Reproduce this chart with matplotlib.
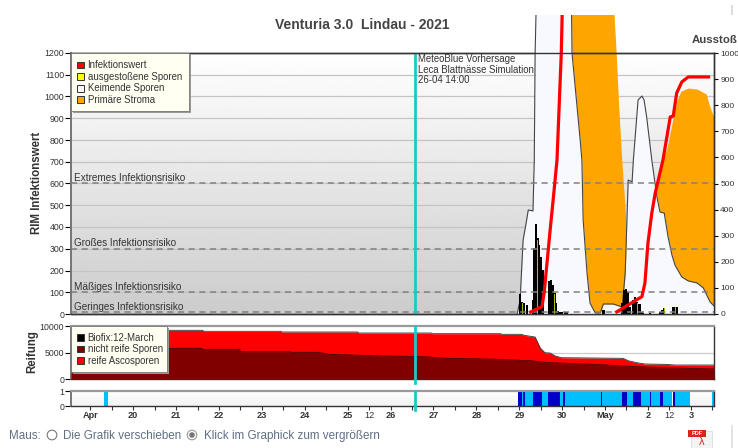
import numpy as np
import matplotlib
matplotlib.use("Agg")
import matplotlib.pyplot as plt
from matplotlib.patches import Rectangle, Circle

plt.rcParams['font.family'] = ['Liberation Sans', 'DejaVu Sans']

# x values are days, 20 = 20 April, 31 = 1 May
keim_x = [28.95, 29.02, 29.09, 29.16, 29.21, 29.32, 29.35, 29.37, 29.39, 29.42, 30.15, 30.22, 30.23, 30.42,
          30.46, 30.49, 30.58, 30.65, 30.77, 30.89, 30.96, 31.19, 31.40, 31.47, 31.54, 31.63, 31.66, 31.77,
          31.86, 31.91, 31.97, 32.09, 32.21, 32.28, 32.38, 32.47, 32.56, 32.63, 32.79, 32.94, 33.14, 33.29,
          33.45, 33.54]
keim_y = [0, 64, 340, 418, 478, 474, 708, 1200, 1375, 1900, 1900, 1375, 1200, 800,
          708, 432, 188, 50, 5, 5, 46, 46, 32, 188, 616, 607, 708, 984,
          1002, 984, 906, 708, 538, 469, 464, 354, 271, 225, 170, 152, 143, 120,
          55, 37]

stroma_x = [29.6, 29.9, 30.9, 31.21, 31.26, 31.31, 31.39, 31.47, 31.51, 31.52, 31.54, 31.6, 32.17, 32.35,
            32.45, 32.59, 32.68, 32.77, 32.94, 33.15, 33.36, 33.43, 33.54]
stroma_y = [0, 1900, 1900, 1375, 1200, 984, 708, 478, 326, 64, 10, 10, 579, 708,
            768, 906, 984, 1025, 1039, 1034, 1011, 961, 901]

inf1_x = [29.23, 29.53, 29.58, 29.72, 29.79, 29.88, 29.98, 30.00, 30.03]
inf1_y = [6, 34, 97, 386, 524, 708, 1200, 1375, 1900]
inf2_x = [31.24, 31.86, 31.93, 32.0, 32.09, 32.17, 32.35, 32.52, 32.59, 32.67, 32.79, 32.94, 33.45]
inf2_y = [6, 80, 143, 326, 464, 556, 708, 906, 910, 1016, 1067, 1090, 1090]

bar_x = [29.02, 29.07, 29.11, 29.18, 29.33, 29.35, 29.39, 29.43, 29.46, 29.51, 29.54, 29.56, 29.70, 29.74,
         29.78, 29.82, 29.86, 29.89, 29.95, 30.0, 30.06, 30.11, 30.96, 31.41, 31.44, 31.49, 31.54, 31.57,
         31.66, 31.70, 31.75, 31.80, 31.85, 31.89, 32.05, 32.28, 32.34, 32.38, 32.59, 32.64, 32.67]
bar_y = [92, 55, 50, 41, 64, 303, 414, 349, 317, 262, 202, 110, 152, 156,
         133, 97, 50, 14, 9, 8, 8, 8, 18, 50, 110, 115, 101, 32,
         64, 78, 55, 46, 9, 6, 6, 9, 18, 28, 34, 34, 32]
# the few hours where the yellow of the bar shows through the black
streak_x = [29.07, 29.18, 29.43, 29.51, 29.74, 29.82, 31.49, 31.75, 32.38, 32.64]
streak_y = [50, 36, 340, 250, 150, 90, 108, 50, 26, 30]

risk_levels = [600, 300, 100, 9]
risk_labels = ['Extremes Infektionsrisiko', 'Großes Infektionsrisiko', 'Mäßiges Infektionsrisiko', 'Geringes Infektionsrisiko']

total_x = [18.55, 21.62, 21.64, 23.44, 23.46, 25.23, 25.25, 26.95, 26.97, 28.57, 28.59, 29.05, 29.12, 29.37,
           29.49, 29.6, 29.72, 29.84, 29.98, 30.72, 31.42, 31.54, 31.74, 31.93, 32.4, 32.63, 33.54]
total_y = [9190, 9190, 9000, 9000, 8870, 8870, 8680, 8680, 8550, 8550, 8430, 8430, 8240, 7920,
           5850, 4960, 4900, 4340, 4020, 3960, 3900, 3450, 3080, 2830, 2770, 2640, 2640]
unripe_x = [18.55, 21.59, 21.61, 22.48, 22.50, 23.65, 23.67, 24.31, 24.57, 25.29, 25.92, 26.76, 27.32, 28.48,
            29.25, 29.72, 30.72, 31.31, 31.75, 32.35, 33.54]
unripe_y = [5790, 5790, 5600, 5600, 5150, 5150, 5040, 5040, 4660, 4470, 4340, 4210, 3900, 3720,
            3450, 3080, 2770, 2510, 2320, 2130, 1890]

wet_light = [(19.32, 19.42), (29.06, 29.08), (29.14, 29.33), (29.53, 29.68), (29.94, 30.03), (30.06, 30.90),
             (30.93, 31.40), (31.52, 31.65), (31.84, 32.04), (32.06, 32.28), (32.35, 32.57), (32.62, 32.97),
             (33.50, 33.54)]
wet_dark = [(28.96, 29.06), (29.08, 29.14), (29.33, 29.53), (29.68, 29.94), (30.03, 30.06), (30.90, 30.93),
            (31.40, 31.52), (31.65, 31.84), (32.04, 32.06), (32.28, 32.35), (32.59, 32.62)]

tick_days = [19, 20, 21, 22, 23, 24, 25, 25.5, 26, 27, 28, 29, 30, 31, 32, 32.5, 33]
tick_names = ['Apr', '20', '21', '22', '23', '24', '25', '12', '26', '27', '28', '29', '30', 'May', '2', '12', '3']
forecast_day = 26.57

W, H = 738, 448
x_range = (18.55, 33.54)
fig = plt.figure(figsize=(W / 100, H / 100), dpi=100)


def axes_at(top, bottom):
    return fig.add_axes([71 / W, 1 - bottom / H, (714 - 71) / W, (bottom - top) / H])


def fx(x):
    return x / W


def fy(y):
    return 1 - y / H


def put_text(x, y, s, **kw):
    kw.setdefault('fontsize', 6.9)
    kw.setdefault('color', '#333333')
    kw.setdefault('va', 'center')
    fig.text(fx(x), fy(y), s, **kw)


def put_box(x0, y0, x1, y1, **kw):
    r = Rectangle((fx(x0), fy(y1)), fx(x1 - x0), (y1 - y0) / H, transform=fig.transFigure, **kw)
    fig.add_artist(r)
    return r


def style_spines(ax, top_grey):
    for side in ['right', 'bottom']:
        ax.spines[side].set_color('#333333')
        ax.spines[side].set_linewidth(1.0)
    ax.spines['left'].set_color('#777777')
    ax.spines['left'].set_linewidth(1.4)
    ax.spines['top'].set_color('#999999' if top_grey else '#333333')
    ax.spines['top'].set_linewidth(1.6 if top_grey else 1.0)


def style_y_ticks(ax):
    ax.tick_params(axis='y', labelsize=6.3, labelcolor='#333333', length=4, width=0.8, pad=1)


# main panel
ax = axes_at(53, 314)
ax.imshow(np.linspace(1.0, 0.8, 100).reshape(-1, 1), extent=[x_range[0], x_range[1], 0, 1200], aspect='auto',
          cmap='gray', vmin=0, vmax=1, zorder=0)
ax.set_xlim(x_range)
ax.set_ylim(0, 1200)
for v in range(100, 1200, 100):
    ax.axhline(v, color='#c4c4c4', lw=0.9, zorder=1)

# the curves run out over the top of the panel, up to y=15 px
clip = Rectangle((0, 0), 1, (314 - 15) / (314 - 53), transform=ax.transAxes)
arts = [ax.fill_between(stroma_x, stroma_y, color='#ffa500', lw=0, zorder=2)]
arts.append(ax.fill_between(keim_x, keim_y, color='#f8f8ff', lw=0, zorder=3))
arts += ax.plot(keim_x, keim_y, color='#444444', lw=0.8, zorder=4)
arts += ax.plot(inf1_x, inf1_y, color='#ff0000', lw=2.3, zorder=7, solid_capstyle='butt')
arts += ax.plot(inf2_x, inf2_y, color='#ff0000', lw=2.3, zorder=7, solid_capstyle='butt')
for a in arts:
    a.set_clip_path(clip)
ax.bar(bar_x, bar_y, width=0.055, color='black', lw=0, zorder=5)
ax.bar(streak_x, streak_y, width=0.014, color='#b8b800', lw=0, zorder=5)

for v in risk_levels:
    ax.axhline(v, color='#808080', lw=1.1, dashes=(4, 3), zorder=6)
for v, s in zip(risk_levels, risk_labels):
    ax.text(18.62, v + 25, s, fontsize=7.2, color='#333333', va='center', zorder=8)

ax.axvline(forecast_day, color='#1fc8c8', lw=2.0, zorder=9)
ax.set_yticks(range(0, 1300, 100))
ax.set_xticks([])
style_y_ticks(ax)
style_spines(ax, False)

right = ax.twinx()
right.set_ylim(0, 1000)
right.set_yticks(range(0, 1100, 100))
right.tick_params(axis='y', labelsize=6.0, labelcolor='#333333', length=3, width=0.8, pad=1.5)
style_spines(right, False)

# maturity panel
ax2 = axes_at(326, 379)
ax2.set_xlim(x_range)
ax2.set_ylim(0, 10000)
ax2.axhline(5000, color='#cccccc', lw=0.9, zorder=1)
ax2.fill_between(total_x, total_y, color='#ff0000', lw=0, zorder=2)
ax2.plot(total_x, total_y, color='#333333', lw=0.6, zorder=3)
ax2.fill_between(unripe_x, unripe_y, color='#800000', lw=0, zorder=4)
ax2.plot(unripe_x, unripe_y, color='#300000', lw=0.6, zorder=5)
ax2.axvline(forecast_day, ymin=-0.07, color='#1fc8c8', lw=2.0, zorder=6, clip_on=False)
ax2.set_yticks([0, 5000, 10000])
ax2.set_xticks([])
style_y_ticks(ax2)
style_spines(ax2, True)

# leaf wetness strip
ax3 = axes_at(391, 406)
ax3.imshow(np.linspace(1.0, 0.95, 50).reshape(-1, 1), extent=[x_range[0], x_range[1], 0, 1], aspect='auto',
           cmap='gray', vmin=0, vmax=1, zorder=0)
ax3.set_xlim(x_range)
ax3.set_ylim(0, 1)
for a, b in wet_light:
    ax3.axvspan(a, b, color='#00bfff', lw=0, zorder=2)
for a, b in wet_dark:
    ax3.axvspan(a, b, color='#0000c8', lw=0, zorder=2)
ax3.axvline(forecast_day, ymin=-0.25, color='#1fc8c8', lw=2.0, zorder=3, clip_on=False)
ax3.set_yticks([0, 1])
ax3.set_xticks(np.arange(19, 34, 0.5))
ax3.set_xticklabels([])
ax3.tick_params(axis='x', length=3, width=0.8, color='#333333')
style_y_ticks(ax3)
style_spines(ax3, True)
for d, s in zip(tick_days, tick_names):
    plain = s == '12'
    ax3.text(d, -0.62, s, ha='center', va='center', fontsize=6.6, color='#333333',
             fontweight='normal' if plain else 'bold')

# main legend
put_box(72.5, 54.5, 190.5, 113, fc='#999999', ec='none', zorder=20)
put_box(71, 53, 189, 111.5, fc='#fffff2', ec='#777777', lw=0.6, zorder=21)
leg_names = ['Infektionswert', 'ausgestoßene Sporen', 'Keimende Sporen', 'Primäre Stroma']
leg_cols = ['#ff0000', '#ffff00', '#f8f8ff', '#ffa500']
for i, (s, c) in enumerate(zip(leg_names, leg_cols)):
    y = 65 + i * 11.6
    put_box(77, y - 3.4, 84, y + 3.4, fc=c, ec='#333333', lw=0.7, zorder=22)
    put_text(87.5, y, s, zorder=22)

# maturity legend
put_box(72.5, 327.5, 168.5, 373.5, fc='#999999', ec='none', zorder=20)
put_box(71, 326, 167, 372, fc='#fffff2', ec='#777777', lw=0.6, zorder=21)
leg2_names = ['Biofix:12-March', 'nicht reife Sporen', 'reife Ascosporen']
leg2_cols = ['#000000', '#800000', '#ff0000']
for i, (s, c) in enumerate(zip(leg2_names, leg2_cols)):
    y = 337.7 + i * 11.4
    put_box(77, y - 3.4, 84, y + 3.4, fc=c, ec='#333333', lw=0.7, zorder=22)
    put_text(87.5, y, s, zorder=22)

put_text(418, 59, 'MeteoBlue Vorhersage', zorder=22)
put_text(418, 70, 'Leca Blattnässe Simulation', zorder=22)
put_text(418, 80, '26-04 14:00', zorder=22)

put_text(362.5, 25, 'Venturia 3.0  Lindau - 2021', ha='center', fontsize=10, fontweight='bold', color='#444444')
put_text(692, 40, 'Ausstoß', fontsize=8.2, fontweight='bold', color='#444444')
put_text(37, 183, 'RIM Infektionswert', fontsize=8.3, fontweight='bold', rotation=90, ha='center')
put_text(32, 352, 'Reifung', fontsize=8.3, fontweight='bold', rotation=90, ha='center')

# mouse options below the chart
ui = '#5f6f86'
put_text(9, 436, 'Maus:', fontsize=8.4, color=ui)
put_text(63, 436, 'Die Grafik verschieben', fontsize=8.4, color=ui)
put_text(204, 436, 'Klick im Graphick zum vergrößern', fontsize=8.4, color=ui)
fig.add_artist(Circle((52, H - 435), 4.8, transform=None, fc='white', ec='#777777', lw=0.8))
fig.add_artist(Circle((192, H - 435), 4.8, transform=None, fc='white', ec='#999999', lw=0.8))
fig.add_artist(Circle((192, H - 435), 2.8, transform=None, fc='#777777', ec='none'))

# pdf icon and the faint page marks at the right edge
put_box(691, 431, 712, 448, fc='#f4f4f4', ec='#dddddd', lw=0.6)
put_box(688, 430, 706, 437, fc='#d8261c', ec='none')
put_text(697, 433.5, 'PDF', fontsize=4, color='white', fontweight='bold', ha='center')
put_text(702, 442, 'λ', fontsize=8, color='#d8261c', ha='center')
put_box(731, 5, 733, 15, fc='#dddddd', ec='none')
put_box(731, 425, 733, 448, fc='#e4e4e4', ec='none')

fig.savefig('out.png', dpi=100)
